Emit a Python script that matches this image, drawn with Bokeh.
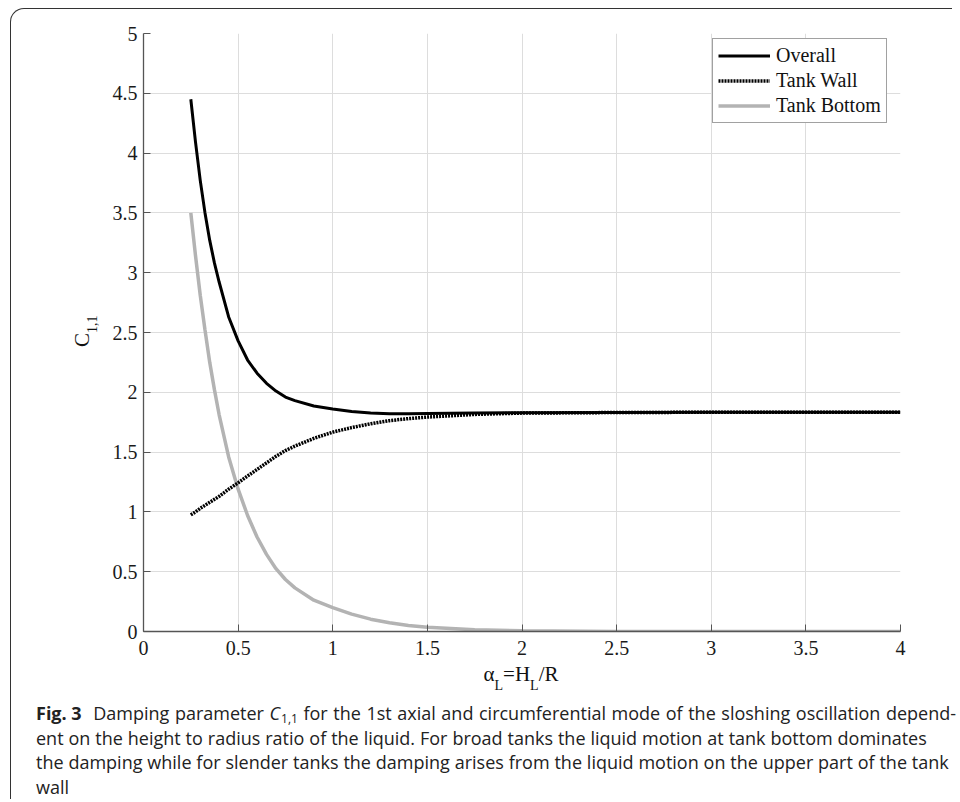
from bokeh.plotting import figure
from bokeh.models import (Legend, LegendItem, FixedTicker, Range1d, Div,
                          ColumnDataSource)
from bokeh.layouts import column, row
from bokeh.embed import file_html
from bokeh.resources import INLINE

# ---------------- data ----------------
alpha_l = [0.25, 0.275, 0.3, 0.325, 0.35, 0.375, 0.4, 0.45, 0.5, 0.55, 0.6,
           0.65, 0.7, 0.75, 0.8, 0.9, 1.0, 1.1, 1.2, 1.3, 1.4, 1.5, 1.75, 2.0,
           2.5, 3.0, 3.5, 4.0]
overall = [4.45, 4.09, 3.77, 3.50, 3.27, 3.08, 2.92, 2.63, 2.43, 2.27, 2.16,
           2.075, 2.01, 1.96, 1.93, 1.885, 1.86, 1.84, 1.826, 1.82, 1.82,
           1.822, 1.827, 1.830, 1.832, 1.833, 1.833, 1.833]
tank_wall = [0.975, 1.00, 1.03, 1.055, 1.08, 1.105, 1.13, 1.19, 1.243, 1.30,
             1.355, 1.41, 1.465, 1.513, 1.55, 1.615, 1.667, 1.705, 1.737,
             1.763, 1.78, 1.793, 1.815, 1.826, 1.831, 1.833, 1.833, 1.833]
tank_bottom = [3.50, 3.14, 2.81, 2.52, 2.25, 2.02, 1.81, 1.46, 1.19, 0.97,
               0.79, 0.645, 0.525, 0.435, 0.365, 0.262, 0.20, 0.145, 0.103,
               0.073, 0.051, 0.036, 0.015, 0.006, 0.001, 0.0, 0.0, 0.0]
series_names = ["Overall", "Tank Wall", "Tank Bottom"]

x_ticks = [0, 0.5, 1, 1.5, 2, 2.5, 3, 3.5, 4]
x_tick_labels = ["0", "0.5", "1", "1.5", "2", "2.5", "3", "3.5", "4"]
y_ticks = [0, 0.5, 1, 1.5, 2, 2.5, 3, 3.5, 4, 4.5, 5]
y_tick_labels = ["0", "0.5", "1", "1.5", "2", "2.5", "3", "3.5", "4", "4.5", "5"]

x_label_html = "\u03b1<sub>L</sub>=H<sub>L</sub>/R"
y_label_html = "C<sub>1,1</sub>"

caption_lines = [
    "Damping parameter C1,1 for the 1st axial and circumferential mode of the sloshing oscillation depend-",
    "ent on the height to radius ratio of the liquid. For broad tanks the liquid motion at tank bottom dominates",
    "the damping while for slender tanks the damping arises from the liquid motion on the upper part of the tank",
    "wall",
]

# ---------------- geometry ----------------
YLAB_W = 90                      # width of the y-label strip
ML, MR, MT, MB = 42, 52, 24, 34  # figure borders (frame left at page x 143.5)
FW, FH = 757, 598
FIG_W = ML + FW + MR
FIG_H = MT + FH + MB
TOTAL_W = YLAB_W + FIG_W
XLAB_H = 36

p = figure(width=FIG_W, height=FIG_H,
           x_range=Range1d(0, 4), y_range=Range1d(0, 5),
           output_backend="svg", toolbar_location=None,
           min_border_left=ML, min_border_right=MR,
           min_border_top=MT, min_border_bottom=MB, margin=(0, 0, 0, 0))
p.outline_line_color = None
p.background_fill_color = "white"
p.border_fill_color = "white"

src = ColumnDataSource(dict(x=alpha_l, o=overall, w=tank_wall, b=tank_bottom))
r_b = p.line("x", "b", source=src, line_color="#b3b3b3", line_width=3.5)
r_w = p.line("x", "w", source=src, line_color="#000000", line_width=3.5,
             line_dash="2 1")
r_o = p.line("x", "o", source=src, line_color="#000000", line_width=3)

for ax in (p.xaxis, p.yaxis):
    ax.axis_line_color = "#555555"
    ax.axis_line_width = 1.3
    ax.major_tick_line_color = "#555555"
    ax.major_tick_in = 7
    ax.major_tick_out = 0
    ax.minor_tick_line_color = None
    ax.major_label_text_font = "Liberation Serif"
    ax.major_label_text_font_size = "20px"
    ax.major_label_text_color = "#1a1a1a"

p.xaxis.ticker = FixedTicker(ticks=x_ticks)
p.yaxis.ticker = FixedTicker(ticks=y_ticks)
p.xaxis.major_label_overrides = {t: s for t, s in zip(x_ticks, x_tick_labels)}
p.yaxis.major_label_overrides = {t: s for t, s in zip(y_ticks, y_tick_labels)}
p.xaxis.major_label_standoff = 9
p.yaxis.major_label_standoff = 6

p.xgrid.ticker = FixedTicker(ticks=x_ticks)
p.ygrid.ticker = FixedTicker(ticks=y_ticks)
p.grid.grid_line_color = "#dddddd"
p.grid.grid_line_width = 1

legend = Legend(items=[LegendItem(label=series_names[0], renderers=[r_o]),
                       LegendItem(label=series_names[1], renderers=[r_w]),
                       LegendItem(label=series_names[2], renderers=[r_b])],
                location=(569, 508), orientation="vertical",
                padding=5, spacing=2, margin=0,
                glyph_width=52, glyph_height=23, label_height=23,
                label_standoff=6,
                label_text_font="Liberation Serif", label_text_font_size="20px",
                label_text_color="#111111",
                border_line_color="#444444", border_line_width=1,
                background_fill_color="white", background_fill_alpha=1)
p.add_layout(legend)

SERIF = "font-family:'Liberation Serif';color:#111;"

# y-axis label strip (rotated HTML text with subscript)
ylab_html = (
    '<div style="position:relative;width:%dpx;height:%dpx">'
    '<div style="position:absolute;left:61px;top:338px;transform:rotate(-90deg);'
    'transform-origin:0 0;white-space:nowrap;font-size:21px;line-height:21px;%s">'
    '%s</div></div>'
    % (YLAB_W, FIG_H, SERIF,
       y_label_html.replace("<sub>", '<sub style="font-size:14px;line-height:0;vertical-align:-8px">'))
)
ylab = Div(text=ylab_html, width=YLAB_W, height=FIG_H, margin=(0, 0, 0, 0))

# x-axis label strip
xlab_html = (
    '<div style="position:relative;width:%dpx;height:%dpx">'
    '<div style="position:absolute;left:510px;top:-1px;transform:translateX(-50%%);'
    'white-space:nowrap;font-size:21px;line-height:21px;%s">%s</div></div>'
    % (TOTAL_W, XLAB_H, SERIF,
       x_label_html.replace("<sub>", '<sub style="font-size:14px;line-height:0;vertical-align:-9px">'))
)
xlab = Div(text=xlab_html, width=TOTAL_W, height=XLAB_H, margin=(0, 0, 0, 0))


# caption
def words_html(line, first=False):
    parts = []
    if first:
        parts.append('<span style="font-weight:700;margin-right:6px;white-space:pre">Fig. 3</span>')
    for w in line.split(" "):
        if w == "C1,1":
            parts.append('<span style="white-space:pre"><i>C</i><sub style="font-size:12px;'
                         'line-height:0;vertical-align:-3px;margin-left:1px">1,1</sub></span>')
        else:
            parts.append('<span>%s</span>' % w)
    return "".join(parts)


line_widths = [920, 891, 913]
rows = []
for i, line in enumerate(caption_lines):
    if i < 3:
        rows.append('<div style="display:flex;justify-content:space-between;gap:4px;'
                    'width:%dpx;height:24.5px;line-height:24.5px;white-space:nowrap">%s</div>'
                    % (line_widths[i], words_html(line, first=(i == 0))))
    else:
        rows.append('<div style="height:24.5px;line-height:24.5px">%s</div>' % line)
cap_html = ('<div style="font-family:\'Open Sans\';font-size:18px;color:#222;'
            'padding-left:25px">%s</div>' % "".join(rows))
cap = Div(text=cap_html, width=TOTAL_W, height=98, margin=(0, 0, 0, 0))

top_row = row(ylab, p, spacing=0, margin=(0, 0, 0, 0))
layout = column(top_row, xlab, cap, margin=(8, 0, 0, 10), spacing=0,
                styles={"border-left": "1.5px solid #333",
                        "border-top": "1.5px solid #333",
                        "border-top-left-radius": "14px",
                        "background": "white"})

open("out.html", "w").write(file_html(layout, INLINE))
